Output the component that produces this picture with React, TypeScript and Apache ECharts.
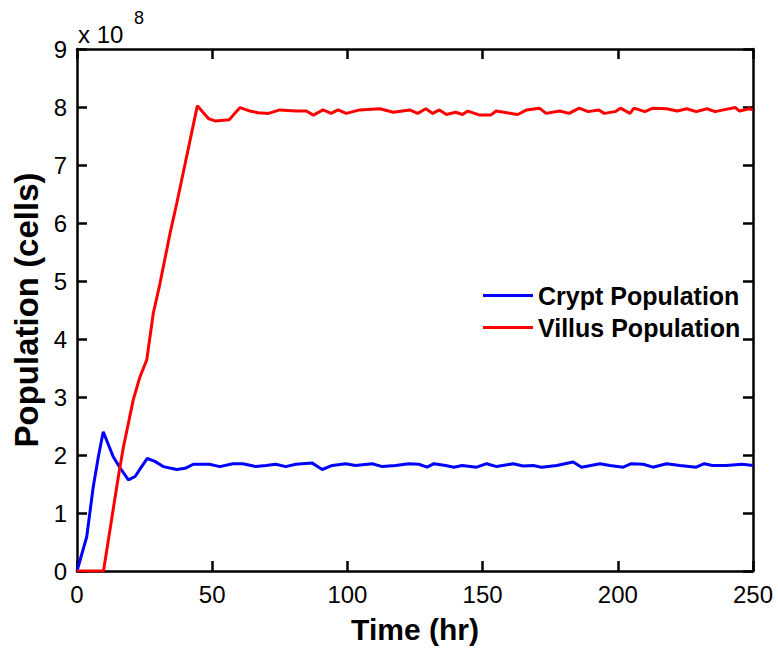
import React, { useEffect, useRef } from "react";
import * as echarts from "echarts";

// values in units of 1e8 cells
const cryptTime = [0, 3.6, 6, 7.9, 9.7, 13.4, 15.9, 19, 21.5, 23.9, 26, 28.8, 31.9, 36.9, 40, 43, 49, 52.8, 57.6, 61.3, 66.1, 69.9, 73.5, 77.2, 80.9, 87, 90.7, 94.4, 99.4, 103, 109.2, 112.9, 117.8, 122.7, 126.4, 129.5, 132, 136.3, 139.4, 142.4, 147.8, 151.5, 155.2, 161.3, 165, 168.7, 171.8, 177.4, 183.5, 186.6, 193.4, 197.1, 202, 205, 209.4, 213, 218, 223, 229, 232, 235, 240, 246, 250];
const cryptPop = [0, 0.59, 1.45, 1.97, 2.40, 1.97, 1.78, 1.57, 1.63, 1.80, 1.94, 1.89, 1.80, 1.75, 1.77, 1.84, 1.84, 1.80, 1.85, 1.85, 1.80, 1.82, 1.84, 1.80, 1.84, 1.86, 1.75, 1.82, 1.85, 1.82, 1.85, 1.80, 1.82, 1.85, 1.84, 1.79, 1.85, 1.82, 1.79, 1.82, 1.79, 1.85, 1.80, 1.85, 1.81, 1.82, 1.79, 1.82, 1.88, 1.79, 1.85, 1.82, 1.79, 1.85, 1.84, 1.79, 1.85, 1.82, 1.79, 1.85, 1.82, 1.82, 1.84, 1.82];

const villusTime = [0, 9.8, 15.3, 17.1, 20.8, 23.3, 25.8, 28.2, 30.7, 34.4, 36.9, 44.5, 48.6, 51, 56.3, 57.8, 60.3, 64, 67, 70.8, 75, 81, 84.8, 87.4, 91, 94, 96.5, 99.6, 104.5, 112, 117, 123, 126, 129, 131.6, 134, 136.6, 140, 142.6, 144.5, 149, 153, 155, 163, 166.3, 171, 173.5, 178.5, 182, 185.7, 189, 193, 195, 199, 201, 204.5, 206, 210, 213, 218, 222, 225.5, 229, 233, 236, 239, 243.5, 245, 248.6, 250];
const villusPop = [0, 0, 1.63, 2.12, 2.95, 3.35, 3.64, 4.44, 4.96, 5.82, 6.34, 8.02, 7.80, 7.76, 7.78, 7.86, 7.99, 7.93, 7.90, 7.89, 7.95, 7.93, 7.93, 7.86, 7.95, 7.89, 7.95, 7.89, 7.95, 7.97, 7.91, 7.95, 7.89, 7.97, 7.89, 7.95, 7.87, 7.91, 7.87, 7.93, 7.86, 7.86, 7.93, 7.87, 7.95, 7.98, 7.89, 7.93, 7.89, 7.98, 7.92, 7.95, 7.89, 7.92, 7.98, 7.89, 7.98, 7.92, 7.98, 7.97, 7.93, 7.97, 7.92, 7.97, 7.92, 7.95, 7.99, 7.93, 7.97, 7.95];

const seriesNames = ["Crypt Population", "Villus Population"];
const xTitle = "Time (hr)";
const yTitle = "Population (cells)";

const FONT = "Liberation Sans, Arial, sans-serif";

export default function App() {
  const ref = useRef<HTMLDivElement>(null);
  useEffect(() => {
    if (!ref.current) return;
    const chart = echarts.init(ref.current, null, { renderer: "svg" });
    const axisLine = { show: true, onZero: false, lineStyle: { color: "#000", width: 2.5 } };
    const axisTick = { show: true, inside: true, length: 10, lineStyle: { color: "#000", width: 2.5 } };
    const grid = { left: 77, right: 25, top: 49, bottom: 78 };
    chart.setOption({
      animation: false,
      backgroundColor: "#fff",
      grid,
      legend: {
        orient: "vertical",
        left: 483,
        top: 283,
        padding: 0,
        itemWidth: 50,
        itemHeight: 3,
        itemGap: 7,
        icon: "rect",
        textStyle: { fontFamily: FONT, fontSize: 25, fontWeight: "bold", color: "#000", lineHeight: 25 },
        data: seriesNames,
      },
      xAxis: [
        {
          type: "value", min: 0, max: 250, interval: 50,
          axisLine, axisTick, splitLine: { show: false },
          axisLabel: { fontFamily: FONT, fontSize: 24, color: "#000", margin: 11 },
          name: xTitle, nameLocation: "middle", nameGap: 43,
          nameTextStyle: { fontFamily: FONT, fontSize: 30, fontWeight: "bold", color: "#000" },
        },
        {
          type: "value", min: 0, max: 250, interval: 50, position: "top",
          axisLine, axisTick, splitLine: { show: false }, axisLabel: { show: false },
        },
      ],
      yAxis: [
        {
          type: "value", min: 0, max: 9, interval: 1,
          axisLine, axisTick, splitLine: { show: false },
          axisLabel: { fontFamily: FONT, fontSize: 24, color: "#000", margin: 10 },
          name: yTitle, nameLocation: "middle", nameGap: 34,
          nameTextStyle: { fontFamily: FONT, fontSize: 33, fontWeight: "bold", color: "#000" },
        },
        {
          type: "value", min: 0, max: 9, interval: 1, position: "right",
          axisLine, axisTick, splitLine: { show: false }, axisLabel: { show: false },
        },
      ],
      graphic: [
        {
          type: "text", left: 78, top: 22,
          style: { text: "x 10", fontFamily: FONT, fontSize: 24, fill: "#000" },
        },
        {
          type: "text", left: 134, top: 9,
          style: { text: "8", fontFamily: FONT, fontSize: 18, fill: "#000" },
        },
      ],
      series: [
        {
          name: seriesNames[0], type: "line", showSymbol: false, symbol: "none",
          color: "#0000ff", lineStyle: { color: "#0000ff", width: 3 },
          data: cryptTime.map((t, i) => [t, cryptPop[i]]),
        },
        {
          name: seriesNames[1], type: "line", showSymbol: false, symbol: "none",
          color: "#ff0000", lineStyle: { color: "#ff0000", width: 3 },
          data: villusTime.map((t, i) => [t, villusPop[i]]),
        },
      ],
    });
    return () => chart.dispose();
  }, []);
  return <div ref={ref} style={{ position: "fixed", left: 0, top: 0, width: 778, height: 649 }} />;
}
